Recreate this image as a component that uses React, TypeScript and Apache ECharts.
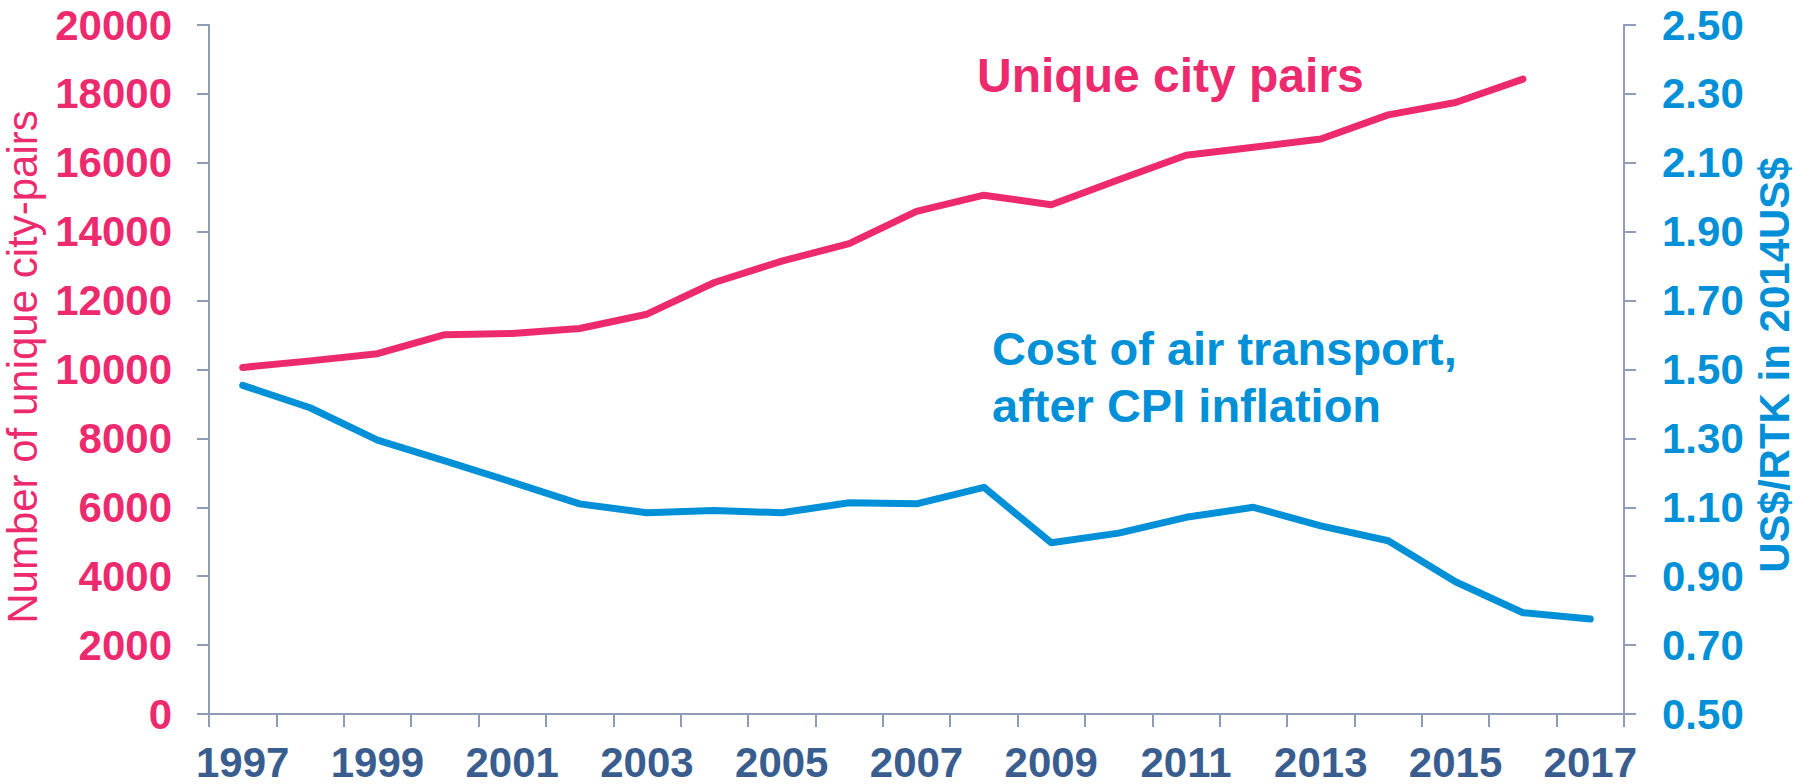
import React, { useEffect, useRef } from "react";
import * as echarts from "echarts";

const years = [
  "1997", "1998", "1999", "2000", "2001", "2002", "2003", "2004", "2005", "2006",
  "2007", "2008", "2009", "2010", "2011", "2012", "2013", "2014", "2015", "2016", "2017",
];
const cityPairs = [
  10060, 10250, 10460, 11010, 11045, 11190, 11605, 12525, 13145, 13655,
  14590, 15060, 14780, 15510, 16220, 16450, 16690, 17390, 17750, 18430, null,
];
const costPerRTK = [
  1.454, 1.389, 1.295, 1.235, 1.173, 1.11, 1.084, 1.091, 1.084, 1.113,
  1.11, 1.158, 0.997, 1.025, 1.071, 1.1, 1.046, 1.003, 0.884, 0.794, 0.776,
];
const leftAxisTitle = "Number of unique city-pairs";
const rightAxisTitle = "US$/RTK in 2014US$";
const pinkLabel = "Unique city pairs";
const blueLabel1 = "Cost of air transport,";
const blueLabel2 = "after CPI inflation";

const PINK = "#EE2A6F";
const BLUE = "#0090D8";
const AXIS = "#8E9CB7";
const XLAB = "#3A5D8F";
const FONT = "'Liberation Sans', Arial, sans-serif";

export default function App() {
  const ref = useRef<HTMLDivElement>(null);
  useEffect(() => {
    if (!ref.current) return;
    const chart = echarts.init(ref.current, null, { renderer: "svg" });
    chart.setOption({
      animation: false,
      backgroundColor: "#ffffff",
      textStyle: { fontFamily: FONT },
      grid: { left: 209, right: 176, top: 25, bottom: 70, containLabel: false },
      xAxis: {
        type: "category",
        data: years,
        boundaryGap: true,
        axisLine: { show: true, lineStyle: { color: AXIS, width: 2 } },
        axisTick: { show: true, interval: 0, length: 13, lineStyle: { color: AXIS, width: 2 } },
        axisLabel: {
          interval: 1,
          margin: 27,
          color: XLAB,
          fontSize: 42,
          fontWeight: "bold",
          fontFamily: FONT,
        },
        splitLine: { show: false },
      },
      yAxis: [
        {
          type: "value",
          min: 0,
          max: 20000,
          interval: 2000,
          position: "left",
          axisLine: { show: true, lineStyle: { color: AXIS, width: 2 } },
          axisTick: { show: true, length: 12, lineStyle: { color: AXIS, width: 2 } },
          axisLabel: {
            margin: 37,
            color: PINK,
            fontSize: 42,
            fontWeight: "bold",
            fontFamily: FONT,
            formatter: (v: number) => String(Math.round(v)),
          },
          splitLine: { show: false },
        },
        {
          type: "value",
          min: 0.5,
          max: 2.5,
          interval: 0.2,
          position: "right",
          axisLine: { show: true, lineStyle: { color: AXIS, width: 2 } },
          axisTick: { show: true, length: 12, lineStyle: { color: AXIS, width: 2 } },
          axisLabel: {
            margin: 38,
            color: BLUE,
            fontSize: 42,
            fontWeight: "bold",
            fontFamily: FONT,
            formatter: (v: number) => v.toFixed(2),
          },
          splitLine: { show: false },
        },
      ],
      series: [
        {
          name: pinkLabel,
          type: "line",
          yAxisIndex: 0,
          data: cityPairs,
          symbol: "none",
          lineStyle: { color: PINK, width: 7, cap: "round", join: "round" },
        },
        {
          name: blueLabel1,
          type: "line",
          yAxisIndex: 1,
          data: costPerRTK,
          symbol: "none",
          lineStyle: { color: BLUE, width: 7, cap: "round", join: "round" },
        },
      ],
      graphic: [
        {
          type: "text",
          x: 22,
          y: 367,
          rotation: Math.PI / 2,
          style: {
            text: leftAxisTitle,
            fill: PINK,
            font: `normal 42px ${FONT}`,
            textAlign: "center",
            textVerticalAlign: "middle",
          },
        },
        {
          type: "text",
          x: 1774,
          y: 365,
          rotation: Math.PI / 2,
          style: {
            text: rightAxisTitle,
            fill: BLUE,
            font: `bold 42px ${FONT}`,
            textAlign: "center",
            textVerticalAlign: "middle",
          },
        },
        {
          type: "text",
          x: 977,
          y: 75,
          style: {
            text: pinkLabel,
            fill: PINK,
            font: `bold 48px ${FONT}`,
            textAlign: "left",
            textVerticalAlign: "middle",
          },
        },
        {
          type: "text",
          x: 992,
          y: 348,
          style: {
            text: blueLabel1,
            fill: BLUE,
            font: `bold 47px ${FONT}`,
            textAlign: "left",
            textVerticalAlign: "middle",
          },
        },
        {
          type: "text",
          x: 992,
          y: 405,
          style: {
            text: blueLabel2,
            fill: BLUE,
            font: `bold 47px ${FONT}`,
            textAlign: "left",
            textVerticalAlign: "middle",
          },
        },
      ],
    });
    return () => chart.dispose();
  }, []);
  return (
    <div
      ref={ref}
      style={{ position: "fixed", left: 0, top: 0, width: 1800, height: 784, background: "#fff" }}
    />
  );
}
